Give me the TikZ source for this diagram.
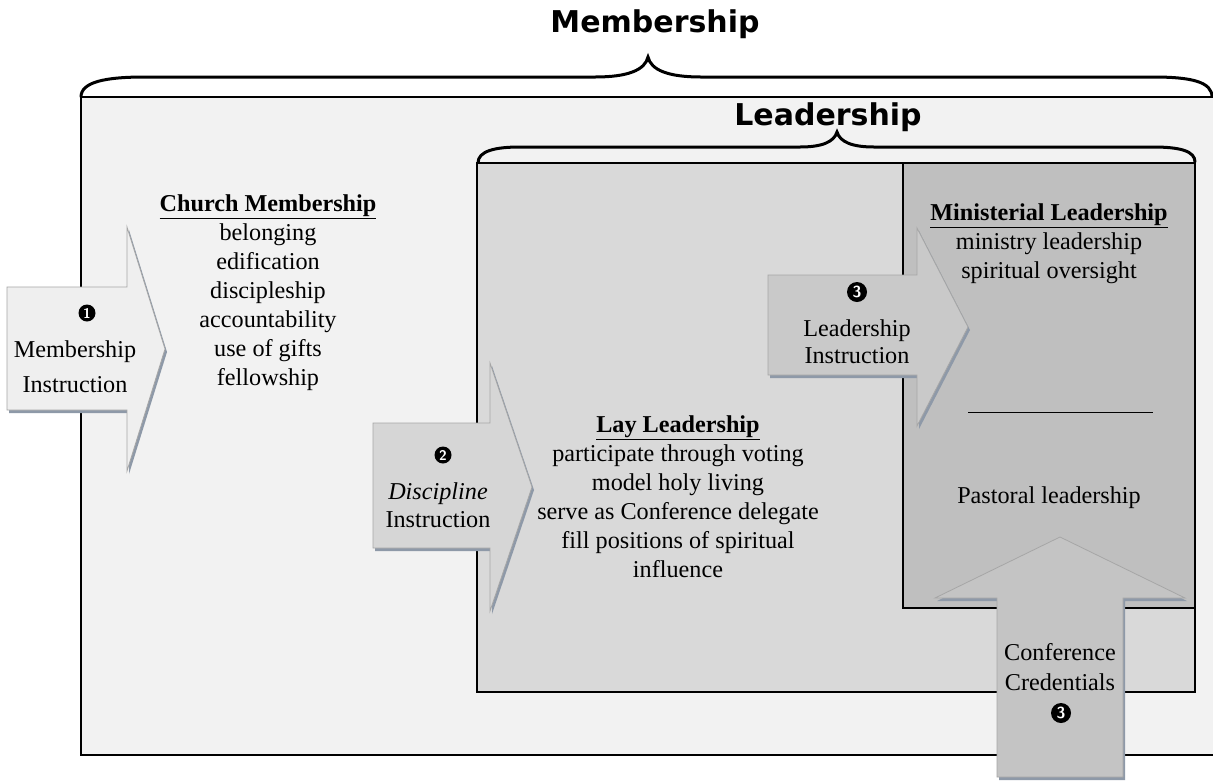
\documentclass[tikz,border=0pt]{standalone}
\usepackage{fontspec}
\setmainfont{Liberation Serif}
\newfontfamily\headfont{DejaVu Sans}
\usetikzlibrary{positioning}

\definecolor{memfill}{HTML}{F2F2F2}
\definecolor{leadfill}{HTML}{D9D9D9}
\definecolor{minfill}{HTML}{BFBFBF}
\definecolor{arrowone}{HTML}{EFEFEF}
\definecolor{arrowtwo}{HTML}{D6D6D6}
\definecolor{arrowthree}{HTML}{C9C9C9}
\definecolor{arrowup}{HTML}{C4C4C4}
\definecolor{arrowedge}{HTML}{A6A6A6}
\definecolor{shadowgray}{HTML}{8E99A8}

% block arrow outlines
\newcommand{\memarrow}{(7,287) -- (127,287) -- (127,227) -- (165,349) -- (127,471) -- (127,410) -- (7,410) -- cycle}
\newcommand{\discarrow}{(373,423) -- (490,423) -- (490,363) -- (532,487) -- (490,611) -- (490,548) -- (373,548) -- cycle}
\newcommand{\leadarrow}{(768,275) -- (917,275) -- (917,228) -- (968,327) -- (917,426) -- (917,375) -- (768,375) -- cycle}
\newcommand{\credarrow}{(997,777) -- (997,598) -- (935,598) -- (1060,537) -- (1185,598) -- (1123,598) -- (1123,777) -- cycle}

\begin{document}
\begin{tikzpicture}[x=1pt,y=-1pt,
	boxline/.style={draw=black, line width=2pt},
	bracepath/.style={draw=black, line width=3pt, line cap=round},
	blockarrow/.style={draw=arrowedge, line width=0.8pt},
	dropshade/.style={fill=shadowgray, shift={(2,3)}},
	bodytext/.style={align=center, font=\fontsize{24.2}{29}\selectfont},
	titletext/.style={font=\headfont\bfseries\fontsize{30}{36}\selectfont},
	numdot/.style={circle, fill=black, text=white, inner sep=0pt, minimum size=17pt, font=\sffamily\bfseries\fontsize{14}{14}\selectfont},
	bignumdot/.style={numdot, minimum size=20pt, font=\sffamily\bfseries\fontsize{16}{16}\selectfont}]
	\useasboundingbox (0,0) rectangle (1213,780);
	\clip (0,0) rectangle (1213,780);
	\fill[white] (0,0) rectangle (1213,780);

	% Membership
	\node[titletext] (memtitle) at (655,24) {Membership};
	\draw[bracepath] (81,97) .. controls (81,82) and (105,77) .. (145,77) -- (595,77)
		.. controls (628,77) and (645,70) .. (648,57) .. controls (651,70) and (668,77) .. (701,77)
		-- (1153,77) .. controls (1192,77) and (1212,82) .. (1212,97);
	\draw[boxline, fill=memfill] (81,97) rectangle (1218,755);

	% Leadership
	\node[titletext] (leadtitle) at (828,117) {Leadership};
	\draw[bracepath] (478,163) .. controls (478,151) and (495,147) .. (520,147) -- (800,147)
		.. controls (822,147) and (834,142) .. (837,132) .. controls (840,142) and (852,147) .. (874,147)
		-- (1153,147) .. controls (1180,147) and (1195,151) .. (1195,162);
	\draw[boxline, fill=leadfill] (477,163) rectangle (1195,692);
	\draw[boxline, fill=minfill] (903,163) rectangle (1195,608);

	% Church membership
	\node[bodytext] (church) at (268,293) {\underline{\textbf{Church Membership}}\\belonging\\edification\\discipleship\\accountability\\use of gifts\\fellowship};

	% Lay leadership
	\node[bodytext] (lay) at (678,497) {\underline{\textbf{Lay Leadership}}\\participate through voting\\model holy living\\serve as Conference delegate\\fill positions of spiritual\\influence};

	% Ministerial leadership
	\node[bodytext] (ministerial) at (1049,244) {\underline{\textbf{Ministerial Leadership}}\\ministry leadership\\spiritual oversight};
	\coordinate (sepleft) at (968,412);
	\coordinate (sepright) at (1153,412);
	\draw[line width=1pt] (sepleft) -- (sepright);
	\node[bodytext] (pastoral) at (1049,498) {Pastoral leadership};

	% Arrow 1
	\fill[dropshade] \memarrow;
	\draw[blockarrow, fill=arrowone] \memarrow;
	\node[numdot] (dotone) at (87,313) {1};
	\node[bodytext, font=\fontsize{24.2}{35}\selectfont] (meminstr) at (75,367) {Membership\\Instruction};

	% Arrow 2
	\fill[dropshade] \discarrow;
	\draw[blockarrow, fill=arrowtwo] \discarrow;
	\node[numdot] (dottwo) at (443,455) {2};
	\node[bodytext, font=\fontsize{24.2}{28}\selectfont] (discinstr) at (438,505) {\textit{Discipline}\\Instruction};

	% Arrow 3
	\fill[dropshade] \leadarrow;
	\draw[blockarrow, fill=arrowthree] \leadarrow;
	\node[bignumdot] (dotthree) at (857,292) {3};
	\node[bodytext, font=\fontsize{24.2}{27}\selectfont] (leadinstr) at (857,342) {Leadership\\Instruction};

	% Arrow up
	\fill[dropshade] \credarrow;
	\draw[blockarrow, fill=arrowup] \credarrow;
	\node[bodytext, font=\fontsize{24.2}{30}\selectfont] (credentials) at (1060,667) {Conference\\Credentials};
	\node[bignumdot] (dotfour) at (1061,713) {3};
\end{tikzpicture}
\end{document}
